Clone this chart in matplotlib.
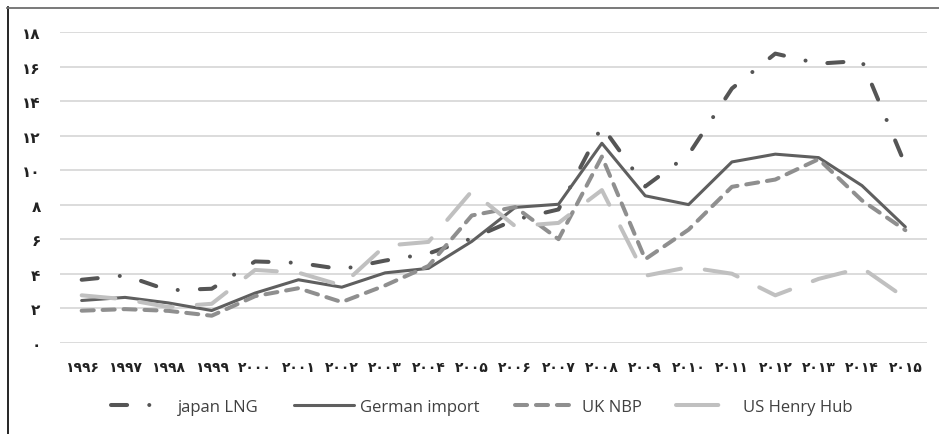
import matplotlib
matplotlib.use("Agg")
import matplotlib.pyplot as plt
from matplotlib.lines import Line2D

years = list(range(1996, 2016))
japan_lng = [3.66, 3.91, 3.05, 3.14, 4.72, 4.64, 4.27, 4.77, 5.18, 6.05,
             7.14, 7.73, 12.55, 9.06, 10.91, 14.73, 16.75, 16.17, 16.33, 10.31]
german_import = [2.46, 2.64, 2.32, 1.88, 2.89, 3.66, 3.23, 4.06, 4.32, 5.88,
                 7.85, 8.03, 11.56, 8.52, 8.01, 10.48, 10.93, 10.73, 9.11, 6.72]
uk_nbp = [1.87, 1.96, 1.86, 1.58, 2.71, 3.17, 2.37, 3.33, 4.46, 7.38,
          7.87, 6.01, 10.79, 4.85, 6.56, 9.04, 9.46, 10.64, 8.25, 6.53]
us_henry_hub = [2.76, 2.53, 2.08, 2.27, 4.23, 4.07, 3.33, 5.63, 5.85, 8.79,
                6.76, 6.95, 8.85, 3.89, 4.39, 4.01, 2.76, 3.71, 4.35, 2.60]
y_ticks = [0, 2, 4, 6, 8, 10, 12, 14, 16, 18]
series_names = ["japan LNG", "German import", "UK NBP", "US Henry Hub"]

PERSIAN = str.maketrans("0123456789", "۰۱۲۳۴۵۶۷۸۹")

def fa(v):
    return str(v).translate(PERSIAN)

W, H = 939, 435
fig = plt.figure(figsize=(W / 100, H / 100), dpi=100)
ax = fig.add_axes([60 / W, 1 - 344 / H, (927 - 60) / W, (344 - 33) / H])

styles = [
    dict(color="#555555", lw=2.9, dashes=[4, 5.5, 0.01, 5.5], dash_capstyle="round"),
    dict(color="#5f5f5f", lw=2.2, solid_capstyle="round"),
    dict(color="#8f8f8f", lw=2.9, dashes=[3, 2.2], dash_capstyle="round"),
    dict(color="#c0c0c0", lw=2.9, dashes=[8.4, 6], dash_capstyle="round"),
]

x = list(range(len(years)))
for vals, st in zip([japan_lng, german_import, uk_nbp, us_henry_hub], styles):
    ax.plot(x, vals, **st)

ax.set_xlim(-0.5, len(years) - 0.5)
ax.set_ylim(0, 18)
ax.set_yticks(y_ticks)
ax.set_yticklabels([fa(v) for v in y_ticks])
ax.set_xticks(x)
ax.set_xticklabels([fa(y) for y in years])
for lab in ax.get_yticklabels():
    lab.set_fontfamily("DejaVu Sans")
    lab.set_fontweight("bold")
    lab.set_fontsize(11)
    lab.set_color("#222222")
for lab in ax.get_xticklabels():
    lab.set_fontfamily("DejaVu Sans")
    lab.set_fontweight("bold")
    lab.set_fontsize(10)
    lab.set_color("#222222")
ax.tick_params(axis="both", length=0)
ax.tick_params(axis="y", pad=14)
ax.tick_params(axis="x", pad=12)
ax.grid(axis="y", color="#d9d9d9", lw=1.3)
ax.set_axisbelow(True)
for s in ax.spines.values():
    s.set_visible(False)

# legend proxies (US handle shows a single long dash)
handles = [
    Line2D([], [], **styles[0]),
    Line2D([], [], **styles[1]),
    Line2D([], [], **styles[2]),
    Line2D([], [], **dict(styles[3], dashes=[10.5, 10])),
]
leg = fig.legend(handles=handles, labels=series_names, loc="center",
                 bbox_to_anchor=(482 / W, 1 - 408 / H),
                 ncol=4, frameon=False, prop={"family": "Open Sans", "size": 12},
                 handlelength=3.6, handletextpad=0.4, columnspacing=2.1)
for t in leg.get_texts():
    t.set_color("#404040")

# outer frame lines
fig.add_artist(Line2D([7.5 / W, 7.5 / W], [0, 1 - 8 / H], transform=fig.transFigure,
                      color="black", lw=1.2))
fig.add_artist(Line2D([7 / W, 1], [1 - 8.5 / H, 1 - 8.5 / H], transform=fig.transFigure,
                      color="#6e6e6e", lw=1.3))

fig.savefig("out.png", dpi=100)
